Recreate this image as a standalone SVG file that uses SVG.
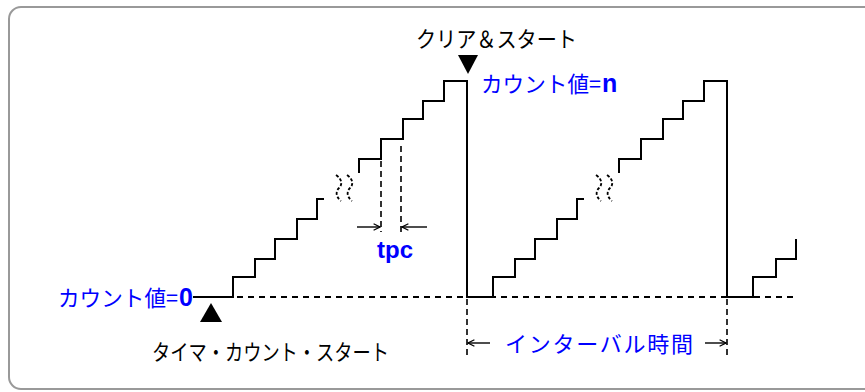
<svg xmlns="http://www.w3.org/2000/svg" width="865" height="392" viewBox="0 0 865 392">
<style>
.wave{fill:none;stroke:#000;stroke-width:2;stroke-linejoin:miter}
.dash{fill:none;stroke:#000;stroke-width:2;stroke-dasharray:6 5}
.vdash{fill:none;stroke:#000;stroke-width:1.6;stroke-dasharray:6 4}
.squig{fill:none;stroke:#000;stroke-width:1.8;stroke-dasharray:3 2}
.arr{fill:none;stroke:#000;stroke-width:1.4;marker-end:url(#ah)}
.jp{font-family:"Noto Sans CJK JP","Noto Sans",sans-serif;font-size:22px}
.blue{fill:#0000ff}
.blk{fill:#000}
.bold{font-family:"Liberation Sans",Arial,sans-serif;font-weight:bold;fill:#0000ff}
</style>
<defs>
<marker id="ah" viewBox="0 0 10 10" refX="9" refY="5" markerWidth="8" markerHeight="8" markerUnits="userSpaceOnUse" orient="auto">
<path d="M1,1 L9,5 L1,9" fill="none" stroke="#000" stroke-width="1.6"/>
</marker>
</defs>
<rect x="9" y="7" width="880" height="382" rx="12" ry="12" fill="#fff" stroke="#999" stroke-width="2"/>

<g id="connectors">
<path class="dash" d="M237,297 H797"/>
<path class="vdash" d="M467,299 V358 M727,299 V358"/>
<path class="vdash" d="M381,161 V232 M401,146 V232"/>
<path class="arr" d="M357,227 H380"/>
<path class="arr" d="M427,227 H402"/>
<path class="arr" d="M490,343 H468"/>
<path class="arr" d="M705,343 H726"/>
</g>

<g id="waveform">
<path class="wave" d="M193,297 H233 V277 H255 V259 H275 V239 H297 V219 H317 V199 H324"/>
<path class="wave" d="M359,173 V159 H381 V139 H403 V119 H423 V101 H444 V81 H467 V297 H493 V277 H515 V259 H535 V239 H557 V219 H577 V199 H584"/>
<path class="wave" d="M619,173 V159 H641 V139 H663 V119 H683 V101 H704 V81 H727 V297 H753 V277 H776 V259 H796 V239"/>
<path class="squig" d="M336,175 C343,180 342,185 339,188 C336,191 335,196 341,201 M347,175 C354,180 353,185 350,188 C347,191 346,196 352,201"/>
<path class="squig" d="M596,175 C603,180 602,185 599,188 C596,191 595,196 601,201 M607,175 C614,180 613,185 610,188 C607,191 606,196 612,201"/>
</g>

<g id="start-marker">
<path d="M211,303 L222,322 L200,322 Z" fill="#000"/>
<text class="jp blk" x="152" y="360" textLength="237" lengthAdjust="spacingAndGlyphs">タイマ・カウント・スタート</text>
</g>

<g id="clear-marker">
<path d="M458,55 L478,55 L468,74 Z" fill="#000"/>
<text class="jp blk" x="416" y="47" textLength="161" lengthAdjust="spacingAndGlyphs">クリア＆スタート</text>
</g>

<g id="count-0">
<text class="jp blue" x="58" y="306" textLength="120" lengthAdjust="spacingAndGlyphs">カウント値=</text>
<text class="bold" x="179" y="306" font-size="25">0</text>
</g>

<g id="count-n">
<text class="jp blue" x="481" y="92" textLength="120" lengthAdjust="spacingAndGlyphs">カウント値=</text>
<text class="bold" x="602" y="92" font-size="25">n</text>
</g>

<g id="tpc">
<text class="bold" x="377" y="258" font-size="24">tpc</text>
</g>

<g id="interval">
<text class="jp blue" x="505" y="352" textLength="188" lengthAdjust="spacing">インターバル時間</text>
</g>
</svg>
